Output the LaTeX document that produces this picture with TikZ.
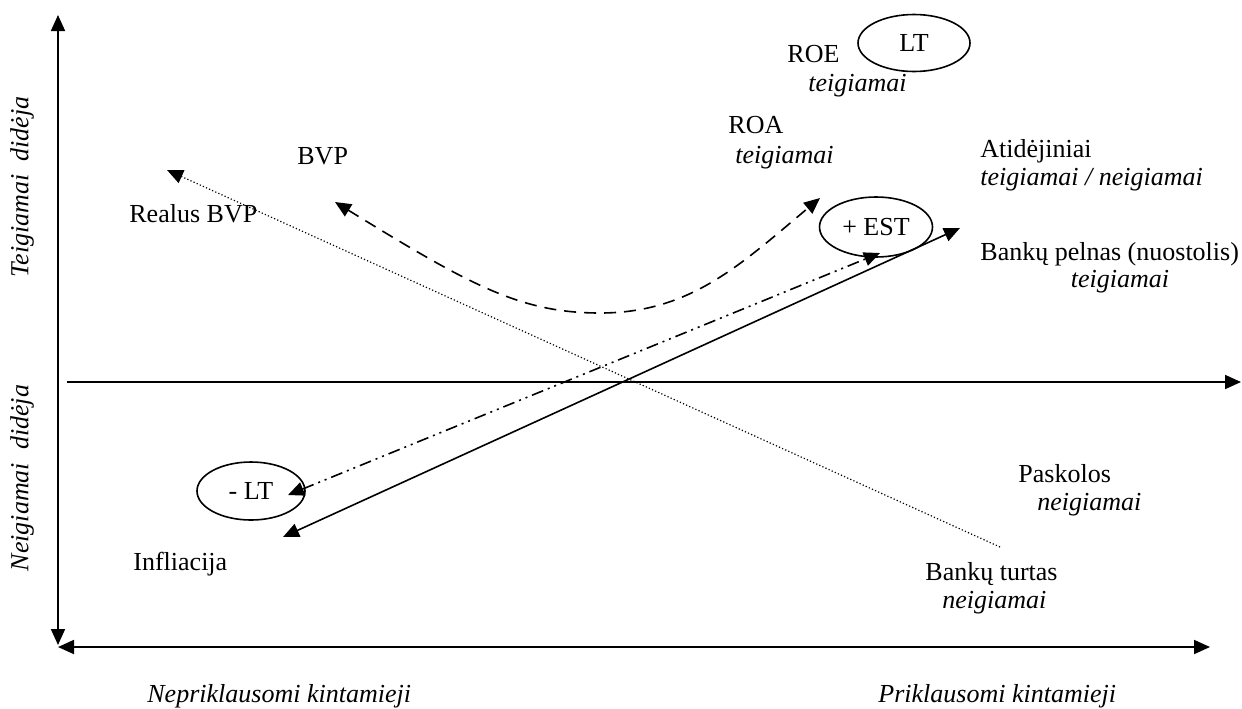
\documentclass[tikz,border=0pt]{standalone}
\usepackage{fontspec}
\setmainfont{Liberation Serif}
\usetikzlibrary{arrows.meta,shapes.geometric}
\tikzset{
  lbl/.style={font=\fontsize{13}{15}\selectfont, inner sep=0pt, anchor=base west},
  ilbl/.style={lbl, font=\fontsize{13}{15}\selectfont\itshape},
  oval/.style={ellipse, draw, line width=0.8pt, inner sep=0pt,
    font=\fontsize{13}{15}\selectfont},
  axis/.style={line width=0.9pt},
  tip/.style={-{Triangle[length=8pt,width=7pt]}},
  tips/.style={{Triangle[length=8pt,width=7pt]}-{Triangle[length=8pt,width=7pt]}},
}
\begin{document}
\begin{tikzpicture}[x=0.5pt, y=-0.5pt]
  \useasboundingbox (0,0) rectangle (1242,708);
  % -- axes ---------------------------------------------------------
  \coordinate (ytop) at (58,15);
  \coordinate (ybot) at (58,645);
  \coordinate (xleft) at (58,647);
  \coordinate (xright) at (1210,647);
  \coordinate (mleft) at (67,382);
  \coordinate (mright) at (1241,382);
  \draw[axis, tips] (ybot) -- (ytop);
  \draw[axis, tips] (xleft) -- (xright);
  \draw[axis, tip] (mleft) -- (mright);
  \node[ilbl, anchor=center, rotate=90] (pos) at (22,187) {Teigiamai\ \ didėja};
  \node[ilbl, anchor=center, rotate=90] (neg) at (22,478) {Neigiamai\ \ didėja};
  \node[ilbl] (indep) at (147,702) {Nepriklausomi kintamieji};
  \node[ilbl] (dep) at (878,702) {Priklausomi kintamieji};
  % -- ovals --------------------------------------------------------
  \node[oval, minimum width=56pt, minimum height=28.5pt] (lt) at (914,43) {LT};
  \node[oval, minimum width=56.5pt, minimum height=30pt] (est) at (876,227) {+ EST};
  \node[oval, minimum width=54pt, minimum height=29pt] (mlt) at (251,491) {- LT};
  % -- labels -------------------------------------------------------
  \node[lbl] (roe) at (787,62) {ROE};
  \node[ilbl] (roet) at (808,91) {teigiamai};
  \node[lbl] (roa) at (728,133) {ROA};
  \node[ilbl] (roat) at (735,163) {teigiamai};
  \node[lbl] (bvp) at (297,164) {BVP};
  \node[lbl] (rbvp) at (129,222) {Realus BVP};
  \node[lbl] (atid) at (980,157) {Atidėjiniai};
  \node[ilbl] (atidt) at (980,185) {teigiamai / neigiamai};
  \node[lbl] (pelnas) at (980,260) {Bankų pelnas (nuostolis)};
  \node[ilbl, anchor=base] (pelnast) at (1120,287) {teigiamai};
  \node[lbl] (pask) at (1018,482) {Paskolos};
  \node[ilbl] (paskt) at (1037,510) {neigiamai};
  \node[lbl] (turtas) at (925,580) {Bankų turtas};
  \node[ilbl] (turtast) at (942,608) {neigiamai};
  \node[lbl] (infl) at (133,570) {Infliacija};
  % -- connectors ---------------------------------------------------
  \coordinate (dotA) at (1000,547);
  \coordinate (dotB) at (167,170);
  \coordinate (solA) at (283,537);
  \coordinate (solB) at (960,228);
  \coordinate (ddA) at (288,495);
  \coordinate (ddB) at (880,253);
  \coordinate (cvA) at (335,202);
  \coordinate (cvM) at (600,313);
  \coordinate (cvB) at (820,198);
  \draw[line width=0.6pt, tip, dash pattern=on 0.6pt off 1.1pt] (dotA) -- (dotB);
  \draw[line width=0.8pt, tips] (solA) -- (solB);
  \draw[line width=0.8pt, tips, dash pattern=on 6pt off 2.5pt on 1pt off 2.5pt on 1pt off 2.5pt] (ddA) -- (ddB);
  \draw[line width=0.8pt, tips, dash pattern=on 6pt off 4pt]
    (cvA) .. controls (470,285) and (520,313) .. (cvM)
    .. controls (690,313) and (740,265) .. (cvB);
\end{tikzpicture}
\end{document}
